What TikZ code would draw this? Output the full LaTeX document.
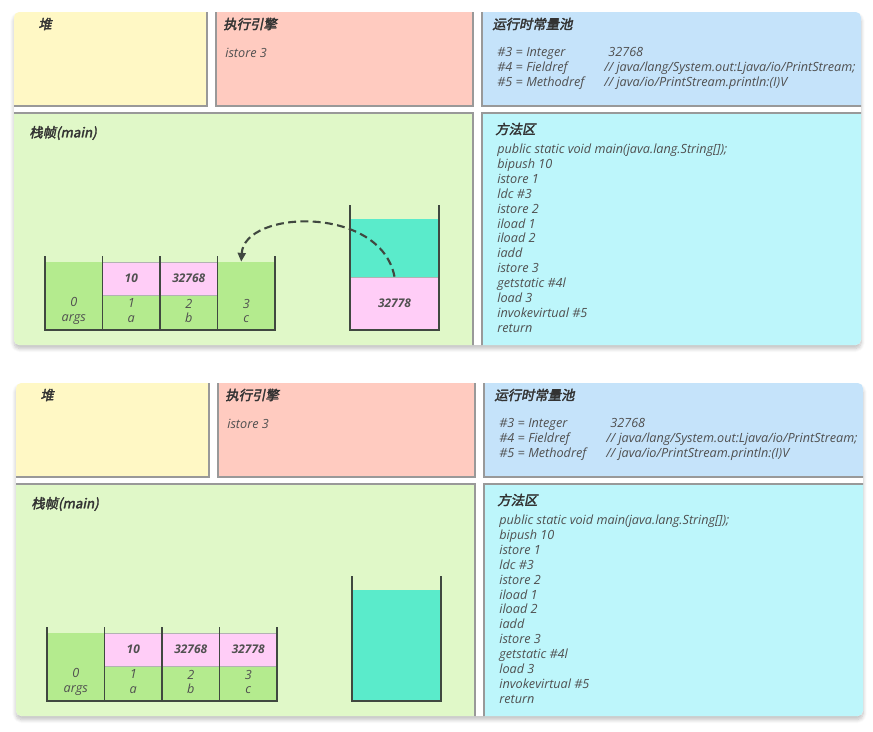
\documentclass[tikz,border=0pt]{standalone}
\usepackage{fontspec}
\setmainfont{Open Sans}
\newfontfamily\cjk[FakeSlant=0.2,FakeBold=2.5]{Noto Sans CJK SC}
\usetikzlibrary{arrows.meta, shadows.blur}

\definecolor{heapyellow}{HTML}{FFF8C5}
\definecolor{enginepink}{HTML}{FFCBC0}
\definecolor{poolblue}{HTML}{C5E3FA}
\definecolor{framegreen}{HTML}{E0F8C8}
\definecolor{methodcyan}{HTML}{BDF6FB}
\definecolor{slotgreen}{HTML}{B4EB8E}
\definecolor{slotpink}{HTML}{FFCDF7}
\definecolor{stackteal}{HTML}{5AEBCB}
\definecolor{walldark}{HTML}{404840}
\definecolor{titlegray}{HTML}{333333}
\definecolor{codegray}{HTML}{505050}

\begin{document}
\begin{tikzpicture}[
		x=0.02cm, y=-0.02cm,
		panel/.style={draw=gray!80, line width=0.6pt},
		title/.style={anchor=west, inner sep=0pt, text=titlegray, font=\cjk\fontsize{7.6}{9}\selectfont},
		code/.style={anchor=base west, inner sep=0pt, text=codegray, font=\fontsize{7.2}{8.5}\selectfont\itshape},
		slot/.style={rectangle, fill=slotgreen, inner sep=0pt, minimum width=1.15cm, minimum height=1.36cm},
		index/.style={align=center, inner sep=0pt, text=codegray, font=\fontsize{7.2}{8.5}\selectfont\itshape},
		value/.style={rectangle, draw=gray!60, fill=slotpink, inner sep=0pt, minimum width=1.15cm, minimum height=0.66cm, text=codegray, font=\fontsize{6.8}{8}\selectfont\bfseries\itshape},
		wall/.style={draw=walldark, line width=1.1pt},
		flow/.style={draw=walldark, line width=1.2pt, dash pattern=on 4.5pt off 2.5pt, -{Triangle[length=5pt, width=4.5pt]}}
	]
	\useasboundingbox (0,0) rectangle (873,731);

	% 1. Kartu dasar untuk kedua keadaan (atas dan bawah)
	\foreach \pan/\dx/\dy in {top/0/0, bot/2/371}{
		\begin{scope}[shift={(\dx,\dy)}, name prefix=\pan-]
			\path[fill=white, rounded corners=3pt, blur shadow={shadow blur steps=8, shadow xshift=0pt, shadow yshift=-2pt, shadow opacity=25}]
			(14,12) rectangle (861,345);
			\begin{scope}
				\clip[rounded corners=3pt] (14,12) rectangle (861,345);
				\draw[panel, fill=heapyellow] (8,8) rectangle (207,106);
				\draw[panel, fill=enginepink] (216,8) rectangle (473,106);
				\draw[panel, fill=poolblue] (482,8) rectangle (866,106);
				\draw[panel, fill=framegreen] (8,113) rectangle (473,350);
				\draw[panel, fill=methodcyan] (482,113) rectangle (866,350);
			\end{scope}

			% Judul tiap area
			\node[title] (heap) at (38,24) {堆};
			\node[title] (engine) at (223,24) {执行引擎};
			\node[title] (pool) at (492,24) {运行时常量池};
			\node[title] (frame) at (29,133) {栈帧(main)};
			\node[title] (method) at (495,129) {方法区};

			\node[code] (instr) at (225,57.5) {istore 3};

			% Isi konstanta
			\node[code] (key3) at (497,56.5) {\#3 = Integer};
			\node[code] (val3) at (608,56.5) {32768};
			\node[code] (key4) at (497,71.5) {\#4 = Fieldref};
			\node[code] (val4) at (604,71.5) {// java/lang/System.out:Ljava/io/PrintStream;};
			\node[code] (key5) at (497,86.5) {\#5 = Methodref};
			\node[code] (val5) at (604,86.5) {// java/io/PrintStream.println:(I)V};

			% Kode byte di area metode
			\foreach \ln [count=\i] in {public static void main(java.lang.String[]);, bipush 10, istore 1, ldc \#3, istore 2, iload 1, iload 2, iadd, istore 3, getstatic \#4l, load 3, invokevirtual \#5, return}
				\node[code] (code\i) at (497,{138.6+14.9*\i}) {\ln};

			% Tabel variabel lokal
			\node[slot] (slot0) at (73.75,296) {};
			\node[slot] (slot1) at (131.25,296) {};
			\node[slot] (slot2) at (188.75,296) {};
			\node[slot] (slot3) at (246.25,296) {};
			\node[index] (idx0) at (73.75,311) {0\\args};
			\node[index] (idx1) at (131.25,311) {1\\a};
			\node[index] (idx2) at (188.75,311) {2\\b};
			\node[index] (idx3) at (246.25,311) {3\\c};
		\end{scope}
	}

	% 2. Keadaan atas: nilai dipindah dari tumpukan operan ke slot 3
	\node[value] (top-v1) at (131.25,278.5) {10};
	\node[value] (top-v2) at (188.75,278.5) {32768};
	\node[rectangle, fill=stackteal, inner sep=0pt, minimum width=1.78cm, minimum height=1.16cm] (top-opfree) at (394.5,248) {};
	\node[value, minimum width=1.78cm, minimum height=1.06cm] (top-op1) at (394.5,303.5) {32778};
	\draw[flow] (top-op1.north) .. controls +(-14,-72) and +(3,-52) .. ([xshift=-0.1cm]top-slot3.north);

	% 3. Keadaan bawah: hasil sudah tersimpan
	\begin{scope}[shift={(2,371)}]
		\node[value] (bot-v1) at (131.25,278.5) {10};
		\node[value] (bot-v2) at (188.75,278.5) {32768};
		\node[value] (bot-v3) at (246.25,278.5) {32778};
		\node[rectangle, fill=stackteal, inner sep=0pt, minimum width=1.78cm, minimum height=2.22cm] (bot-opfree) at (394.5,274.5) {};
	\end{scope}

	% 4. Dinding tabel dan tumpukan
	\foreach \dx/\dy in {0/0, 2/371}{
		\begin{scope}[shift={(\dx,\dy)}]
			\draw[wall] (45,256) -- (45,330) -- (275,330) -- (275,256);
			\draw[wall] (102.5,256) -- (102.5,330);
			\draw[wall] (160,256) -- (160,330);
			\draw[wall] (217.5,256) -- (217.5,330);
			\draw[wall] (350,205) -- (350,330) -- (439,330) -- (439,205);
		\end{scope}
	}
\end{tikzpicture}
\end{document}
